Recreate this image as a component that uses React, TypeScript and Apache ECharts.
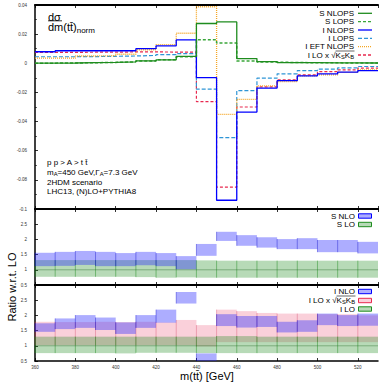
import React, { useEffect, useRef } from 'react';
import * as echarts from 'echarts';

// ---------- data ----------
const BIN_LOW = [360, 370, 380, 390, 400, 410, 420, 430, 440, 450, 460, 470, 480, 490, 500, 510, 520];
const X_MIN = 360;
const X_MAX = 530;
const X_STEP = 20;

const MAIN_MIN = -0.1;
const MAIN_MAX = 0.04;
const MAIN_STEP = 0.02;
const R_MIN = 0.5;
const R_MAX = 3;
const R_STEP = 0.5;

// main panel (normalised distributions)
const S_NLOPS = [0.0001, 0.0002, 0.0004, 0.0006, 0.001, 0.0017, 0.0024, 0.0047, 0.0273, 0.0284, 0.0032, 0.0011, 0.0005, 0.0004, 0.0003, 0.0003, 0.0002];
const S_LOPS = [0.0001, 0.0002, 0.0004, 0.0006, 0.001, 0.0015, 0.0025, 0.0045, 0.0162, 0.0139, 0.0016, 0.0008, 0.0005, 0.0004, 0.0003, 0.0002, 0.0002];
const I_NLOPS = [0.0079, 0.0086, 0.0086, 0.0086, 0.0086, 0.01, 0.012, 0.016, -0.0098, -0.094, -0.0335, -0.017, -0.0119, -0.0086, -0.0072, -0.0061, -0.005];
const I_LOPS = [0.0045, 0.0045, 0.0046, 0.0048, 0.005, 0.0054, 0.0059, 0.0066, -0.0178, -0.051, -0.0188, -0.0102, -0.0072, -0.005, -0.004, -0.0031, -0.0022];
const I_EFT_NLOPS = [0.0035, 0.0035, 0.005, 0.0052, 0.0062, 0.0093, 0.0128, 0.0206, 0.0388, -0.035, -0.0247, -0.0155, -0.0126, -0.0086, -0.008, -0.0063, -0.0045];
const I_LO_K = [0.0075, 0.0075, 0.0076, 0.0076, 0.0078, 0.0078, 0.0077, 0.0077, -0.0263, -0.085, -0.03, -0.0162, -0.0114, -0.008, -0.0057, -0.0045, -0.0033];

// ratio panel 1 (signal)
const S_NLO_LO = [1.12, 1.13, 1.16, 1.12, 1.12, 1.15, 1.12, 1.02, 1.46, 1.95, 1.79, 1.73, 1.68, 1.68, 1.58, 1.58, 1.54];
const S_NLO_HI = [1.56, 1.59, 1.62, 1.59, 1.55, 1.59, 1.55, 1.45, 1.85, 2.25, 2.14, 2.07, 2.01, 2.04, 1.98, 1.98, 1.92];
const S_LO_LO = [0.77, 0.77, 0.77, 0.77, 0.77, 0.76, 0.74, 0.75, 0.74, 0.74, 0.74, 0.74, 0.74, 0.74, 0.74, 0.74, 0.74];
const S_LO_HI = [1.32, 1.32, 1.32, 1.32, 1.32, 1.32, 1.32, 1.32, 1.31, 1.3, 1.3, 1.3, 1.3, 1.3, 1.3, 1.3, 1.3];
const S_LO_CENTRAL = [1, 1, 1, 1, 1, 1, 1, 1, 1, 1, 1, 1, 1, 1, 1, 1, 1];

// ratio panel 2 (interference)
const I_NLO_LO = [1.46, 1.55, 1.59, 1.52, 1.39, 1.59, 1.76, 2.39, 0.3, 1.65, 1.6, 1.62, 1.44, 1.46, 1.68, 1.65, 1.66];
const I_NLO_HI = [1.74, 1.9, 2.01, 1.93, 1.77, 2.01, 2.19, 2.77, 0.75, 2.04, 1.98, 1.98, 1.79, 1.84, 2.06, 2.01, 2.06];
const I_LOK_LO = [1.02, 1.02, 1.02, 1.02, 1.02, 1.02, 1.02, 1.02, 0.98, 1.12, 1.12, 1.12, 1.12, 1.12, 1.12, 1.12, 1.12];
const I_LOK_HI = [1.79, 1.78, 1.78, 1.79, 1.78, 1.79, 1.77, 1.85, 1.68, 2.19, 2.14, 2.08, 2.06, 2.06, 2.04, 2.04, 2.0];
const I_LO_LO = [0.76, 0.76, 0.76, 0.76, 0.75, 0.77, 0.77, 0.77, 0.76, 0.76, 0.76, 0.76, 0.76, 0.76, 0.76, 0.76, 0.76];
const I_LO_HI = [1.3, 1.3, 1.3, 1.3, 1.3, 1.3, 1.3, 1.3, 1.3, 1.32, 1.32, 1.3, 1.3, 1.3, 1.3, 1.3, 1.3];
const I_LO_CENTRAL = [1, 1, 1, 1, 1, 1, 1, 1, 1, 1, 1, 1, 1, 1, 1, 1, 1];

// ---------- styles ----------
const FONT = '"Liberation Sans", Arial, Helvetica, sans-serif';
const GREEN = '#1e8c1e';
const GREEN_D = '#3aa63a';
const BLUE = '#0000ff';
const LBLUE = '#2f95d6';
const ORANGE = '#f5a623';
const RED = '#e8294f';

const BLUE_FILL = 'rgba(40,40,255,0.38)';
const GREEN_FILL = 'rgba(30,140,30,0.32)';
const PINK_FILL = 'rgba(235,60,100,0.24)';

let measureCtx: CanvasRenderingContext2D | null = null;
const measure = (t: string, fs: number) => {
  if (!measureCtx) measureCtx = document.createElement('canvas').getContext('2d');
  if (!measureCtx) return t.length * fs * 0.55;
  measureCtx.font = `${fs}px ${FONT}`;
  return measureCtx.measureText(t).width;
};

const stepData = (vals: number[]) =>
  BIN_LOW.map((x, i) => [x, vals[i]]).concat([[X_MAX, vals[vals.length - 1]]]);

const bandData = (lo: number[], hi: number[]) =>
  BIN_LOW.map((x, i) => [x, i < BIN_LOW.length - 1 ? BIN_LOW[i + 1] : X_MAX, lo[i], hi[i]]);

const lineSeries = (name: string, vals: number[], color: string, type: any, width = 1.3, z = 2) => ({
  type: 'line',
  name,
  xAxisIndex: 0,
  yAxisIndex: 0,
  step: 'end',
  symbol: 'none',
  data: stepData(vals),
  lineStyle: { color, width, type },
  z,
});

const bandSeries = (name: string, axis: number, lo: number[], hi: number[], fill: string, edge: string, z: number) => ({
  type: 'custom',
  name,
  xAxisIndex: axis,
  yAxisIndex: axis,
  z,
  data: bandData(lo, hi),
  encode: { x: [0, 1], y: [2, 3] },
  renderItem: (_params: any, api: any) => {
    const x0 = api.value(0);
    const x1 = api.value(1);
    const l = Math.max(api.value(2), R_MIN);
    const h = Math.min(api.value(3), R_MAX);
    const a = api.coord([x0, h]);
    const b = api.coord([x1, l]);
    return {
      type: 'group',
      children: [
        { type: 'rect', shape: { x: a[0], y: a[1], width: b[0] - a[0], height: b[1] - a[1] }, style: { fill } },
        { type: 'line', shape: { x1: a[0], y1: a[1], x2: a[0], y2: b[1] }, style: { stroke: edge, lineWidth: 0.8 } },
      ],
    };
  },
});

const centralSeries = (axis: number, vals: number[], color: string) => ({
  type: 'line',
  xAxisIndex: axis,
  yAxisIndex: axis,
  step: 'end',
  symbol: 'none',
  data: stepData(vals),
  lineStyle: { color, width: 0.8 },
  z: 3,
  silent: true,
});

const txt = (text: string, x: number, y: number, fs: number, align = 'left', extra: any = {}) => ({
  type: 'text',
  x,
  y,
  style: {
    text,
    fontSize: fs,
    fontFamily: FONT,
    fill: '#000',
    align,
    textAlign: align,
    verticalAlign: 'middle',
    textVerticalAlign: 'middle',
    lineHeight: fs,
    ...extra,
  },
});

// segments: [text, isSubscript]; returns text elements (+ optional radical bar)
const subText = (
  segs: [string, boolean][],
  x: number,
  y: number,
  fs: number,
  sfs: number,
  align: 'left' | 'right' = 'left',
  drop = 2.6,
  barFrom = -1,
) => {
  const widths = segs.map(([t, s]) => measure(t, s ? sfs : fs));
  const total = widths.reduce((a, b) => a + b, 0);
  let cx = align === 'right' ? x - total : x;
  const out: any[] = [];
  let barX = -1;
  segs.forEach(([t, s], i) => {
    if (i === barFrom) barX = cx;
    out.push(txt(t, cx, y + (s ? drop : 0), s ? sfs : fs, 'left'));
    cx += widths[i];
  });
  if (barX >= 0) {
    out.push({ type: 'line', shape: { x1: barX, y1: y - fs * 0.5, x2: cx + 0.5, y2: y - fs * 0.5 }, style: { stroke: '#000', lineWidth: 0.6 } });
  }
  return out;
};

const legendLine = (y: number, color: string, dash: number[] | null, width = 1.3) => ({
  type: 'line',
  shape: { x1: 358, y1: y, x2: 372, y2: y },
  style: { stroke: color, lineWidth: width, lineDash: dash || undefined },
});

const legendBox = (y: number, fill: string, stroke: string) => ({
  type: 'rect',
  shape: { x: 358.5, y: y - 2.2, width: 13, height: 4.4 },
  style: { fill, stroke, lineWidth: 1 },
});

const xAxisBase = (grid: number, position: string, showLabel: boolean, lineWidth: number) => ({
  type: 'value',
  gridIndex: grid,
  position,
  min: X_MIN,
  max: X_MAX,
  interval: X_STEP,
  axisLine: { show: true, onZero: false, lineStyle: { color: '#000', width: lineWidth } },
  axisTick: { show: true, inside: true, length: 3, lineStyle: { color: '#000', width: 0.8 } },
  axisLabel: {
    show: showLabel,
    fontSize: 4.5,
    fontFamily: FONT,
    color: '#333',
    margin: 4,
    showMaxLabel: false,
    formatter: (v: number) => (v === X_MAX ? '' : String(v)),
  },
  splitLine: { show: false },
});

const yAxisBase = (grid: number, min: number, max: number, step: number, minor: boolean, hideMax: boolean) => ({
  type: 'value',
  gridIndex: grid,
  min,
  max,
  interval: step,
  axisLine: { show: true, onZero: false, lineStyle: { color: '#000', width: 1.5 } },
  axisTick: { show: true, inside: true, length: 3, lineStyle: { color: '#000', width: 0.8 } },
  minorTick: { show: minor, splitNumber: 2, length: 2, lineStyle: { color: '#000', width: 0.6 } },
  axisLabel: {
    fontSize: 4.5,
    fontFamily: FONT,
    color: '#333',
    margin: 8,
    formatter: (v: number) => {
      const r = Number(v.toFixed(3));
      if (hideMax && Math.abs(r - max) < 1e-9) return '';
      return String(r);
    },
  },
  splitLine: { show: false },
});

export default function App() {
  const ref = useRef<HTMLDivElement>(null);

  useEffect(() => {
    if (!ref.current) return;
    const chart = echarts.init(ref.current, undefined, { renderer: 'svg' });

    const kSegs: [string, boolean][] = [['I LO x √', false], ['K', false], ['S', true], ['K', false], ['B', true]];

    const mainLegend = [
      { label: 'S NLOPS', color: GREEN, dash: null },
      { label: 'S LOPS', color: GREEN_D, dash: [3, 2] },
      { label: 'I NLOPS', color: BLUE, dash: null },
      { label: 'I LOPS', color: LBLUE, dash: [4, 2] },
      { label: 'I EFT NLOPS', color: ORANGE, dash: [1, 1] },
      { label: '', color: RED, dash: [3, 2] },
    ];
    const legendYs = [13.3, 21.7, 30, 38.3, 46.7, 55];

    const graphic: any[] = [];
    mainLegend.forEach((e, i) => {
      const y = legendYs[i];
      if (e.label) graphic.push(txt(e.label, 354, y, 8, 'right'));
      else graphic.push(...subText(kSegs, 354, y, 8, 5.8, 'right', 2.2, 1));
      graphic.push(legendLine(y, e.color, e.dash));
    });

    // ratio 1 legend
    graphic.push(txt('S NLO', 355, 216, 8, 'right'));
    graphic.push(legendBox(216, BLUE_FILL, BLUE));
    graphic.push(txt('S LO', 355, 224.5, 8, 'right'));
    graphic.push(legendBox(224.5, GREEN_FILL, GREEN));

    // ratio 2 legend
    graphic.push(txt('I NLO', 355, 291.5, 8, 'right'));
    graphic.push(legendBox(291.5, BLUE_FILL, BLUE));
    graphic.push(...subText(kSegs, 355, 300, 8, 5.8, 'right', 2.2, 1));
    graphic.push(legendBox(300.5, PINK_FILL, RED));
    graphic.push(txt('I LO', 355, 309, 8, 'right'));
    graphic.push(legendBox(309, GREEN_FILL, GREEN));

    // fraction label
    graphic.push(txt('dσ', 48, 16.5, 11));
    graphic.push({ type: 'line', shape: { x1: 48, y1: 20.8, x2: 62, y2: 20.8 }, style: { stroke: '#000', lineWidth: 0.8 } });
    graphic.push(...subText([['dm(tt̄)', false], ['norm', true]], 48, 27, 11, 8, 'left', 3));

    // process text block
    graphic.push(txt('p p > A > t t̄', 47, 162.5, 8));
    graphic.push(...subText([['m', false], ['A', true], ['=450 GeV,Γ', false], ['A', true], ['=7.3 GeV', false]], 47, 172, 8, 5.8, 'left', 2.2));
    graphic.push(txt('2HDM scenario', 47, 182, 8));
    graphic.push(txt('LHC13, (N)LO+PYTHIA8', 47, 191, 8));

    // axis titles
    graphic.push(txt('m(tt̄) [GeV]', 207, 375.5, 11, 'center'));
    graphic.push({
      type: 'text',
      x: 12,
      y: 287,
      rotation: Math.PI / 2,
      style: {
        text: 'Ratio w.r.t. LO',
        fontSize: 11,
        fontFamily: FONT,
        fill: '#000',
        align: 'center',
        textAlign: 'center',
        verticalAlign: 'middle',
        textVerticalAlign: 'middle',
      },
    });

    chart.setOption({
      animation: false,
      backgroundColor: '#fff',
      grid: [
        { left: 35, right: 1, top: 5, height: 204 },
        { left: 35, right: 1, top: 209, height: 76 },
        { left: 35, right: 1, top: 285, height: 76 },
      ],
      xAxis: [
        xAxisBase(0, 'bottom', false, 2),
        xAxisBase(1, 'bottom', false, 2),
        xAxisBase(2, 'bottom', true, 1.5),
        xAxisBase(0, 'top', false, 2),
        xAxisBase(1, 'top', false, 2),
        xAxisBase(2, 'top', false, 2),
      ],
      yAxis: [
        yAxisBase(0, MAIN_MIN, MAIN_MAX, MAIN_STEP, true, false),
        yAxisBase(1, R_MIN, R_MAX, R_STEP, false, true),
        yAxisBase(2, R_MIN, R_MAX, R_STEP, false, true),
      ],
      series: [
        lineSeries('I LO x √KSKB', I_LO_K, RED, [3, 2], 1.2, 2),
        lineSeries('I LOPS', I_LOPS, LBLUE, [4, 2], 1.2, 2),
        lineSeries('I EFT NLOPS', I_EFT_NLOPS, ORANGE, [1, 1], 1.3, 3),
        lineSeries('S LOPS', S_LOPS, GREEN_D, [3, 2], 1.5, 3),
        lineSeries('I NLOPS', I_NLOPS, BLUE, 'solid', 1.3, 4),
        lineSeries('S NLOPS', S_NLOPS, GREEN, 'solid', 1.3, 4),
        bandSeries('S LO', 1, S_LO_LO, S_LO_HI, GREEN_FILL, 'rgba(30,140,30,0.6)', 2),
        centralSeries(1, S_LO_CENTRAL, 'rgba(20,90,20,0.45)'),
        bandSeries('S NLO', 1, S_NLO_LO, S_NLO_HI, BLUE_FILL, 'rgba(0,0,200,0.5)', 4),
        bandSeries('I LO x √KSKB', 2, I_LOK_LO, I_LOK_HI, PINK_FILL, 'rgba(200,40,80,0.4)', 2),
        bandSeries('I LO', 2, I_LO_LO, I_LO_HI, GREEN_FILL, 'rgba(30,140,30,0.6)', 3),
        centralSeries(2, I_LO_CENTRAL, 'rgba(20,90,20,0.45)'),
        bandSeries('I NLO', 2, I_NLO_LO, I_NLO_HI, BLUE_FILL, 'rgba(0,0,200,0.5)', 4),
      ],
      graphic,
    });

    return () => chart.dispose();
  }, []);

  return <div ref={ref} style={{ width: 379, height: 382, position: 'absolute', left: 0, top: 0 }} />;
}
